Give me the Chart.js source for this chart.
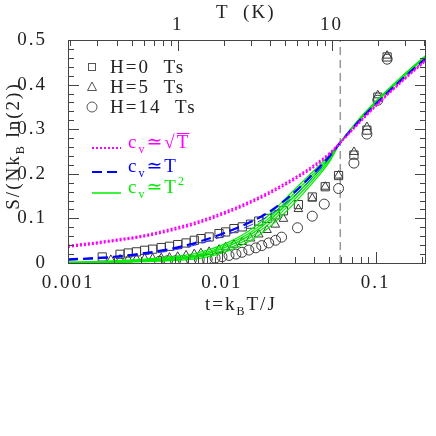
<!DOCTYPE html>
<html>
<head>
<meta charset="utf-8">
<title>Entropy S/(NkB ln2) vs t</title>
<script src="https://cdn.jsdelivr.net/npm/chart.js"></script>
<style>
  body { margin: 0; background: #fff; }
  canvas { display: block; }
</style>
</head>
<body>
<canvas id="entropyChart" width="436" height="436"></canvas>
<script>
// measured entropy, t = kB T / J
const tSquares = [0.00167, 0.00218, 0.00246, 0.00279, 0.00315, 0.00355, 0.00404, 0.00457, 0.00517, 0.00586,
                  0.00663, 0.00732, 0.00828, 0.0096, 0.0106, 0.0120, 0.0136, 0.0154, 0.0174, 0.0197,
                  0.0223, 0.0252, 0.0315, 0.0388, 0.0471, 0.0575, 0.0724, 0.0879, 0.1035, 0.119];
const sSquares = [0.0135, 0.0196, 0.0224, 0.0250, 0.0285, 0.0310, 0.0346, 0.0375, 0.0413, 0.0449,
                  0.0509, 0.0547, 0.0584, 0.0660, 0.0696, 0.0771, 0.081, 0.087, 0.094, 0.100,
                  0.108, 0.117, 0.131, 0.148, 0.171, 0.196, 0.242, 0.298, 0.372, 0.462];

const tTriangles = [0.00190, 0.00218, 0.00246, 0.00279, 0.00315, 0.00355, 0.00404, 0.00457, 0.00517, 0.00586,
                    0.00663, 0.00732, 0.00828, 0.0096, 0.0106, 0.0120, 0.0136, 0.0154, 0.0174, 0.0197,
                    0.0223, 0.0252, 0.0315, 0.0388, 0.0471, 0.0575, 0.0724, 0.0879, 0.1035, 0.119];
const sTriangles = [0.007, 0.008, 0.008, 0.009, 0.010, 0.010, 0.011, 0.012, 0.014, 0.017,
                    0.020, 0.022, 0.025, 0.030, 0.035, 0.041, 0.047, 0.055, 0.064, 0.074,
                    0.086, 0.099, 0.121, 0.145, 0.171, 0.196, 0.249, 0.305, 0.376, 0.465];

const tCircles = [0.00394, 0.00444, 0.00500, 0.00563, 0.00634, 0.00714, 0.00804, 0.00905, 0.01004, 0.01115,
                  0.01237, 0.01352, 0.0150, 0.01665, 0.0182, 0.0202, 0.0224, 0.0245, 0.0311, 0.0388,
                  0.0464, 0.0575, 0.0724, 0.0879, 0.1035, 0.119];
const sCircles = [0.004, 0.005, 0.005, 0.006, 0.007, 0.008, 0.009, 0.011, 0.014, 0.017,
                  0.020, 0.024, 0.029, 0.034, 0.039, 0.045, 0.051, 0.058, 0.079, 0.105,
                  0.132, 0.167, 0.224, 0.289, 0.365, 0.457];

// model curves, read at these t values
const tCurve = [0.001, 0.0015, 0.002, 0.003, 0.005, 0.007, 0.01, 0.015, 0.02, 0.03, 0.04, 0.05, 0.059, 0.08, 0.1, 0.15, 0.213];
const sqrtUpper = [0.039, 0.046, 0.052, 0.061, 0.079, 0.093, 0.112, 0.137, 0.158, 0.192, 0.220, 0.246, 0.270, 0.319, 0.353, 0.410, 0.456];
const sqrtLower = [0.036, 0.043, 0.049, 0.058, 0.075, 0.089, 0.108, 0.133, 0.154, 0.188, 0.216, 0.243, 0.270, 0.317, 0.351, 0.408, 0.454];
const linUpper = [0.008, 0.011, 0.014, 0.021, 0.034, 0.047, 0.065, 0.090, 0.113, 0.160, 0.203, 0.239, 0.270, 0.322, 0.356, 0.413, 0.459];
const linLower = [0.006, 0.009, 0.012, 0.018, 0.030, 0.042, 0.059, 0.083, 0.105, 0.152, 0.196, 0.235, 0.270, 0.321, 0.355, 0.412, 0.458];
const sqA = [0.002, 0.003, 0.005, 0.008, 0.015, 0.023, 0.040, 0.072, 0.106, 0.166, 0.208, 0.242, 0.270, 0.327, 0.362, 0.420, 0.466];
const sqB = [0.001, 0.002, 0.004, 0.006, 0.012, 0.019, 0.036, 0.066, 0.099, 0.158, 0.202, 0.238, 0.270, 0.326, 0.361, 0.419, 0.465];
const sqC = [0.001, 0.002, 0.003, 0.005, 0.010, 0.016, 0.032, 0.061, 0.093, 0.151, 0.196, 0.234, 0.270, 0.325, 0.360, 0.418, 0.464];
const sqD = [0.000, 0.001, 0.002, 0.004, 0.008, 0.013, 0.027, 0.055, 0.086, 0.144, 0.190, 0.230, 0.270, 0.324, 0.359, 0.417, 0.463];
const sqE = [0.000, 0.001, 0.001, 0.003, 0.006, 0.010, 0.022, 0.048, 0.078, 0.136, 0.184, 0.226, 0.270, 0.323, 0.358, 0.416, 0.462];

const tDashed = 0.059;
const J_KELVIN = 193;  // T (K) = t * J

const xTicks = [0.001, 0.01, 0.1];
const xTickLabels = ['0.001', '0.01', '0.1'];
const xMinorTicks = [0.002, 0.003, 0.004, 0.005, 0.006, 0.007, 0.008, 0.009,
                     0.02, 0.03, 0.04, 0.05, 0.06, 0.07, 0.08, 0.09, 0.2];
const yTicks = [0, 0.1, 0.2, 0.3, 0.4, 0.5];
const yTickLabels = ['0', '0.1', '0.2', '0.3', '0.4', '0.5'];
const yMinorTicks = [0.02, 0.04, 0.06, 0.08, 0.12, 0.14, 0.16, 0.18, 0.22, 0.24, 0.26, 0.28,
                     0.32, 0.34, 0.36, 0.38, 0.42, 0.44, 0.46, 0.48];
const topTicks = [1, 10];
const topTickLabels = ['1', '10'];
const topMinorTicks = [0.2, 0.3, 0.4, 0.5, 0.6, 0.7, 0.8, 0.9, 2, 3, 4, 5, 6, 7, 8, 9, 20, 30, 40];

const SERIF = '"Liberation Serif", "DejaVu Serif", serif';
const INK = '#222';
const MARK = '#3a3a3a';

const pts = (xs, ys) => xs.map((x, i) => ({ x: x, y: ys[i] }));

function curve(ys, color, width, dash) {
    return {
        data: pts(tCurve, ys), showLine: true, pointRadius: 0, borderColor: color,
        borderWidth: width, borderDash: dash, cubicInterpolationMode: 'monotone', order: 1
    };
}

// text with sub/superscripts: parts = [[text, kind]]
function drawParts(ctx, parts, x, y) {
    let cx = x;
    parts.forEach(([text, kind]) => {
        ctx.font = (kind === 'sub' || kind === 'sup' ? 12 : 19) + 'px ' + SERIF;
        const dy = kind === 'sub' ? 5 : kind === 'sup' ? -8 : 0;
        ctx.fillText(text, cx, y + dy);
        const w = ctx.measureText(text).width;
        if (kind === 'over') {
            ctx.beginPath();
            ctx.moveTo(cx, y - 14.5);
            ctx.lineTo(cx + w - 1, y - 14.5);
            ctx.lineWidth = 1;
            ctx.strokeStyle = ctx.fillStyle;
            ctx.stroke();
        }
        cx += w;
    });
    return cx - x;
}

function partsWidth(ctx, parts) {
    let w = 0;
    parts.forEach(([text, kind]) => {
        ctx.font = (kind === 'sub' || kind === 'sup' ? 12 : 19) + 'px ' + SERIF;
        w += ctx.measureText(text).width;
    });
    return w;
}

const decorations = {
    id: 'decorations',
    beforeLayout(chart) { chart.ctx.letterSpacing = '2px'; },
    beforeDraw(chart) { chart.ctx.letterSpacing = '2px'; },
    afterDraw(chart) {
        const { ctx, chartArea: a, scales } = chart;
        ctx.save();
        ctx.letterSpacing = '2px';

        // frame + inward ticks
        ctx.strokeStyle = '#444';
        ctx.lineWidth = 1;
        ctx.strokeRect(a.left + 0.5, a.top + 0.5, a.right - a.left - 1, a.bottom - a.top);
        ctx.beginPath();
        const vx = (scale, v, y0, len) => {
            const p = Math.round(scale.getPixelForValue(v)) + 0.5;
            ctx.moveTo(p, y0); ctx.lineTo(p, y0 + len);
        };
        const hy = (v, len) => {
            const p = Math.round(scales.y.getPixelForValue(v)) + 0.5;
            ctx.moveTo(a.left, p); ctx.lineTo(a.left + len, p);
            ctx.moveTo(a.right, p); ctx.lineTo(a.right - len, p);
        };
        xTicks.forEach(v => vx(scales.x, v, a.bottom, -11));
        xMinorTicks.forEach(v => vx(scales.x, v, a.bottom, -6));
        topTicks.forEach(v => vx(scales.x2, v, a.top, 11));
        topMinorTicks.forEach(v => vx(scales.x2, v, a.top, 6));
        yTicks.forEach(v => hy(v, 11));
        yMinorTicks.forEach(v => hy(v, 6));
        ctx.stroke();

        // axis titles
        ctx.fillStyle = INK;
        ctx.textBaseline = 'alphabetic';
        ctx.textAlign = 'left';
        drawParts(ctx, [['T  (K)', '']], 216, 18);
        drawParts(ctx, [['t=k', ''], ['B', 'sub'], ['T/J', '']], 205, 310);
        const yTitle = [['S/(Nk', ''], ['B', 'sub'], [' ln(2))', '']];
        ctx.save();
        ctx.translate(19, 146);
        ctx.rotate(-Math.PI / 2);
        drawParts(ctx, yTitle, -partsWidth(ctx, yTitle) / 2, 0);
        ctx.restore();

        // symbol legend
        ctx.strokeStyle = '#555';
        ctx.lineWidth = 1;
        ctx.strokeRect(88.5, 63.5, 7, 7);
        ctx.beginPath();
        ctx.moveTo(92, 82); ctx.lineTo(96.5, 90.5); ctx.lineTo(87.5, 90.5); ctx.closePath();
        ctx.stroke();
        ctx.beginPath();
        ctx.arc(92, 107, 5, 0, Math.PI * 2);
        ctx.stroke();
        ctx.fillStyle = INK;
        drawParts(ctx, [['H=0  Ts', '']], 110, 73);
        drawParts(ctx, [['H=5  Ts', '']], 110, 93);
        drawParts(ctx, [['H=14  Ts', '']], 110, 113);

        // curve legend
        const rows = [
            { y: 148, color: '#ff00ff', dash: [2, 2], width: 2, parts: [['c', ''], ['v', 'sub'], ['\u2243\u221A', ''], ['T', 'over']] },
            { y: 172, color: '#0000ff', dash: [10, 5], width: 2, parts: [['c', ''], ['v', 'sub'], ['\u2243T', '']] },
            { y: 193, color: '#00ee00', dash: [], width: 1.5, parts: [['c', ''], ['v', 'sub'], ['\u2243T', ''], ['2', 'sup']] }
        ];
        rows.forEach(r => {
            ctx.beginPath();
            ctx.setLineDash(r.dash);
            ctx.strokeStyle = r.color;
            ctx.lineWidth = r.width;
            ctx.moveTo(92, r.y); ctx.lineTo(121, r.y);
            ctx.stroke();
            ctx.setLineDash([]);
            ctx.fillStyle = r.color;
            drawParts(ctx, r.parts, 128, r.y);
        });
        ctx.restore();
    }
};

const tickFont = { family: SERIF, size: 19 };

new Chart(document.getElementById('entropyChart'), {
    type: 'scatter',
    data: {
        datasets: [
            { label: 'H=0 Ts', data: pts(tSquares, sSquares), pointStyle: 'rect', pointRadius: 5.8,
              borderColor: MARK, backgroundColor: 'transparent', borderWidth: 1, order: 2 },
            { label: 'H=5 Ts', data: pts(tTriangles, sTriangles), pointStyle: 'triangle', pointRadius: 5,
              borderColor: MARK, backgroundColor: 'transparent', borderWidth: 1, order: 2 },
            { label: 'H=14 Ts', data: pts(tCircles, sCircles), pointStyle: 'circle', pointRadius: 5,
              borderColor: MARK, backgroundColor: 'transparent', borderWidth: 1, order: 2 },
            curve(sqrtUpper, '#ff00ff', 2, [2, 2]),
            curve(sqrtLower, '#ff00ff', 2, [2, 2]),
            curve(linUpper, '#0000ff', 2.2, [10, 5]),
            curve(linLower, '#3333ff', 1, [10, 5]),
            curve(sqA, '#00ee00', 1.2, []),
            curve(sqB, '#00ee00', 1.2, []),
            curve(sqC, '#00ee00', 1.5, []),
            curve(sqD, '#00ee00', 1.2, []),
            curve(sqE, '#00ee00', 1.2, []),
            { data: [{ x: tDashed, y: 0 }, { x: tDashed, y: 0.5 }], showLine: true, pointRadius: 0,
              borderColor: '#999', borderWidth: 1.5, borderDash: [8, 5], order: 3 }
        ]
    },
    options: {
        responsive: false,
        animation: false,
        devicePixelRatio: 1,
        layout: { padding: { left: 0, right: 10, top: 0, bottom: 0 } },
        plugins: { legend: { display: false }, tooltip: { enabled: false } },
        scales: {
            x: {
                type: 'logarithmic', position: 'bottom', min: 0.001, max: 0.213,
                grid: { display: false }, border: { display: false },
                afterBuildTicks: s => { s.ticks = xTicks.map(v => ({ value: v })); },
                afterFit: s => { s.height = 173; },
                ticks: { autoSkip: false, maxRotation: 0, padding: 1, color: INK, font: tickFont,
                         callback: (v, i) => xTickLabels[i] }
            },
            x2: {
                type: 'logarithmic', position: 'top', min: 0.001 * J_KELVIN, max: 0.213 * J_KELVIN,
                grid: { display: false }, border: { display: false },
                afterBuildTicks: s => { s.ticks = topTicks.map(v => ({ value: v })); },
                afterFit: s => { s.height = 40; },
                ticks: { autoSkip: false, maxRotation: 0, padding: -4, color: INK, font: tickFont,
                         callback: (v, i) => topTickLabels[i] }
            },
            y: {
                min: 0, max: 0.5, position: 'left',
                grid: { display: false }, border: { display: false },
                afterBuildTicks: s => { s.ticks = yTicks.map(v => ({ value: v })); },
                afterFit: s => { s.width = 68; },
                ticks: { autoSkip: false, padding: 13, color: INK, font: tickFont,
                         callback: (v, i) => yTickLabels[i] }
            }
        }
    },
    plugins: [decorations]
});
</script>
</body>
</html>
